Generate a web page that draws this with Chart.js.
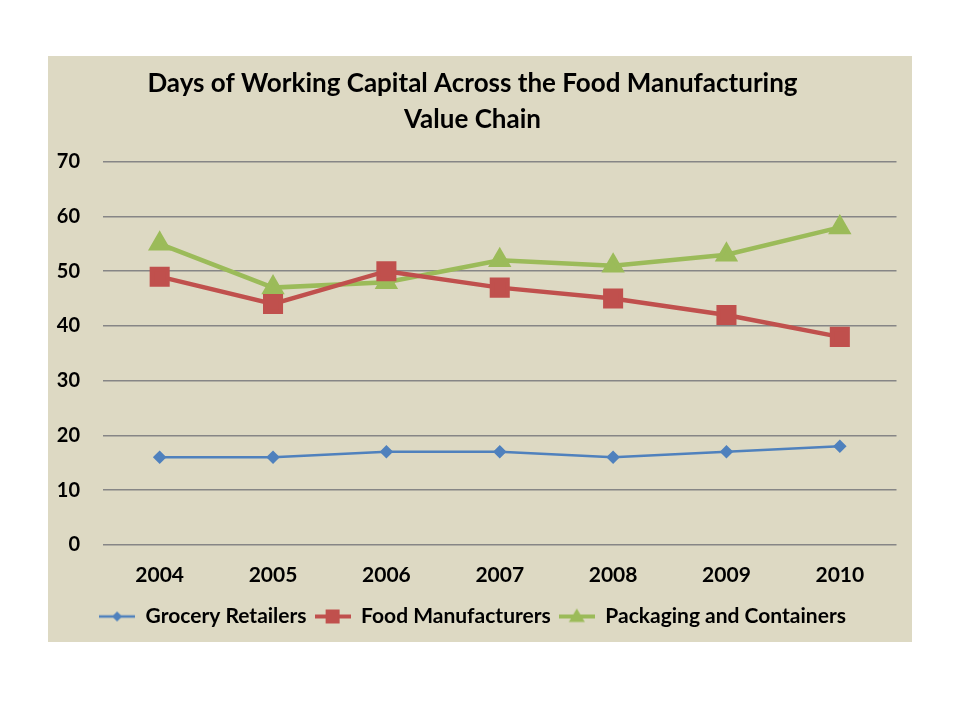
<!DOCTYPE html>
<html>
<head>
<meta charset="utf-8">
<script src="https://cdn.jsdelivr.net/npm/chart.js@4/dist/chart.umd.min.js"></script>
<style>
  html, body { margin: 0; padding: 0; background: #fff; }
  #panel { position: absolute; left: 48px; top: 56px; width: 864px; height: 586px; background: #ddd9c3; }
</style>
</head>
<body>
<div id="panel"><canvas id="myChart" width="864" height="586"></canvas></div>
<script>
const years = ['2004', '2005', '2006', '2007', '2008', '2009', '2010'];
const grocery = [16, 16, 17, 17, 16, 17, 18];
const foodMfg = [49, 44, 50, 47, 45, 42, 38];
const packaging = [55, 47, 48, 52, 51, 53, 58];
const seriesNames = ['Grocery Retailers', 'Food Manufacturers', 'Packaging and Containers'];

const FONT = 'Lato, "Open Sans", sans-serif';

// legend swatch: short line with the marker in the middle
function swatch(color, lineW, shape, r) {
    const c = document.createElement('canvas');
    c.width = 36; c.height = 20;
    const g = c.getContext('2d');
    g.strokeStyle = color; g.fillStyle = color; g.lineWidth = lineW;
    g.beginPath(); g.moveTo(0, 10); g.lineTo(36, 10); g.stroke();
    g.beginPath();
    if (shape === 'diamond') {
        g.moveTo(18, 10 - r); g.lineTo(18 + r, 10); g.lineTo(18, 10 + r); g.lineTo(18 - r, 10);
    } else if (shape === 'square') {
        g.rect(18 - r, 10 - r, 2 * r, 2 * r);
    } else {
        g.moveTo(18, 10 - r); g.lineTo(18 + r, 10 + r * 0.7); g.lineTo(18 - r, 10 + r * 0.7);
    }
    g.closePath(); g.fill();
    return c;
}
const swatches = [
    swatch('#4f81bd', 2.5, 'diamond', 5),
    swatch('#c0504d', 4, 'square', 7),
    swatch('#9bbb59', 4, 'triangle', 8)
];

const ctx = document.getElementById('myChart').getContext('2d');
new Chart(ctx, {
    type: 'line',
    data: {
        labels: years,
        datasets: [{
            label: seriesNames[0],
            data: grocery,
            borderColor: '#4f81bd',
            backgroundColor: '#4f81bd',
            borderWidth: 2.5,
            pointStyle: 'rectRot',
            pointRadius: 5,
            tension: 0
        }, {
            label: seriesNames[1],
            data: foodMfg,
            borderColor: '#c0504d',
            backgroundColor: '#c0504d',
            borderWidth: 4.5,
            pointStyle: 'rect',
            pointRadius: 11,
            tension: 0
        }, {
            label: seriesNames[2],
            data: packaging,
            borderColor: '#9bbb59',
            backgroundColor: '#9bbb59',
            borderWidth: 4.5,
            pointStyle: 'triangle',
            pointRadius: 9,
            tension: 0
        }]
    },
    options: {
        responsive: false,
        animation: false,
        layout: { padding: { left: 0, right: 15, top: 0, bottom: 5 } },
        plugins: {
            title: {
                display: true,
                text: ['Days of Working Capital Across the Food Manufacturing', 'Value Chain'],
                color: '#000',
                font: { family: FONT, size: 26, weight: 'bold', lineHeight: 1.38 },
                padding: { top: 10, bottom: 24 }
            },
            legend: {
                position: 'bottom',
                labels: {
                    color: '#000',
                    font: { family: FONT, size: 21, weight: 'bold', lineHeight: 1.0 },
                    usePointStyle: true,
                    pointStyleWidth: 36,
                    padding: 8,
                    generateLabels: function(chart) {
                        return chart.data.datasets.map(function(ds, i) {
                            return {
                                text: ds.label,
                                pointStyle: swatches[i],
                                fillStyle: ds.borderColor,
                                strokeStyle: ds.borderColor,
                                fontColor: '#000',
                                lineWidth: 0,
                                datasetIndex: i,
                                hidden: false
                            };
                        });
                    }
                }
            },
            tooltip: { enabled: false }
        },
        scales: {
            x: {
                offset: true,
                grid: { display: false },
                border: { display: false },
                ticks: { color: '#000', font: { family: FONT, size: 21, weight: 'bold' }, padding: 10 }
            },
            y: {
                min: 0,
                max: 70,
                ticks: { stepSize: 10, color: '#000', font: { family: FONT, size: 20, weight: 'bold' }, padding: 23 },
                grid: { color: '#868686', lineWidth: 1.5, drawTicks: false },
                border: { display: false },
                afterFit: function(scale) { scale.width = 55; }
            }
        }
    }
});
</script>
</body>
</html>
